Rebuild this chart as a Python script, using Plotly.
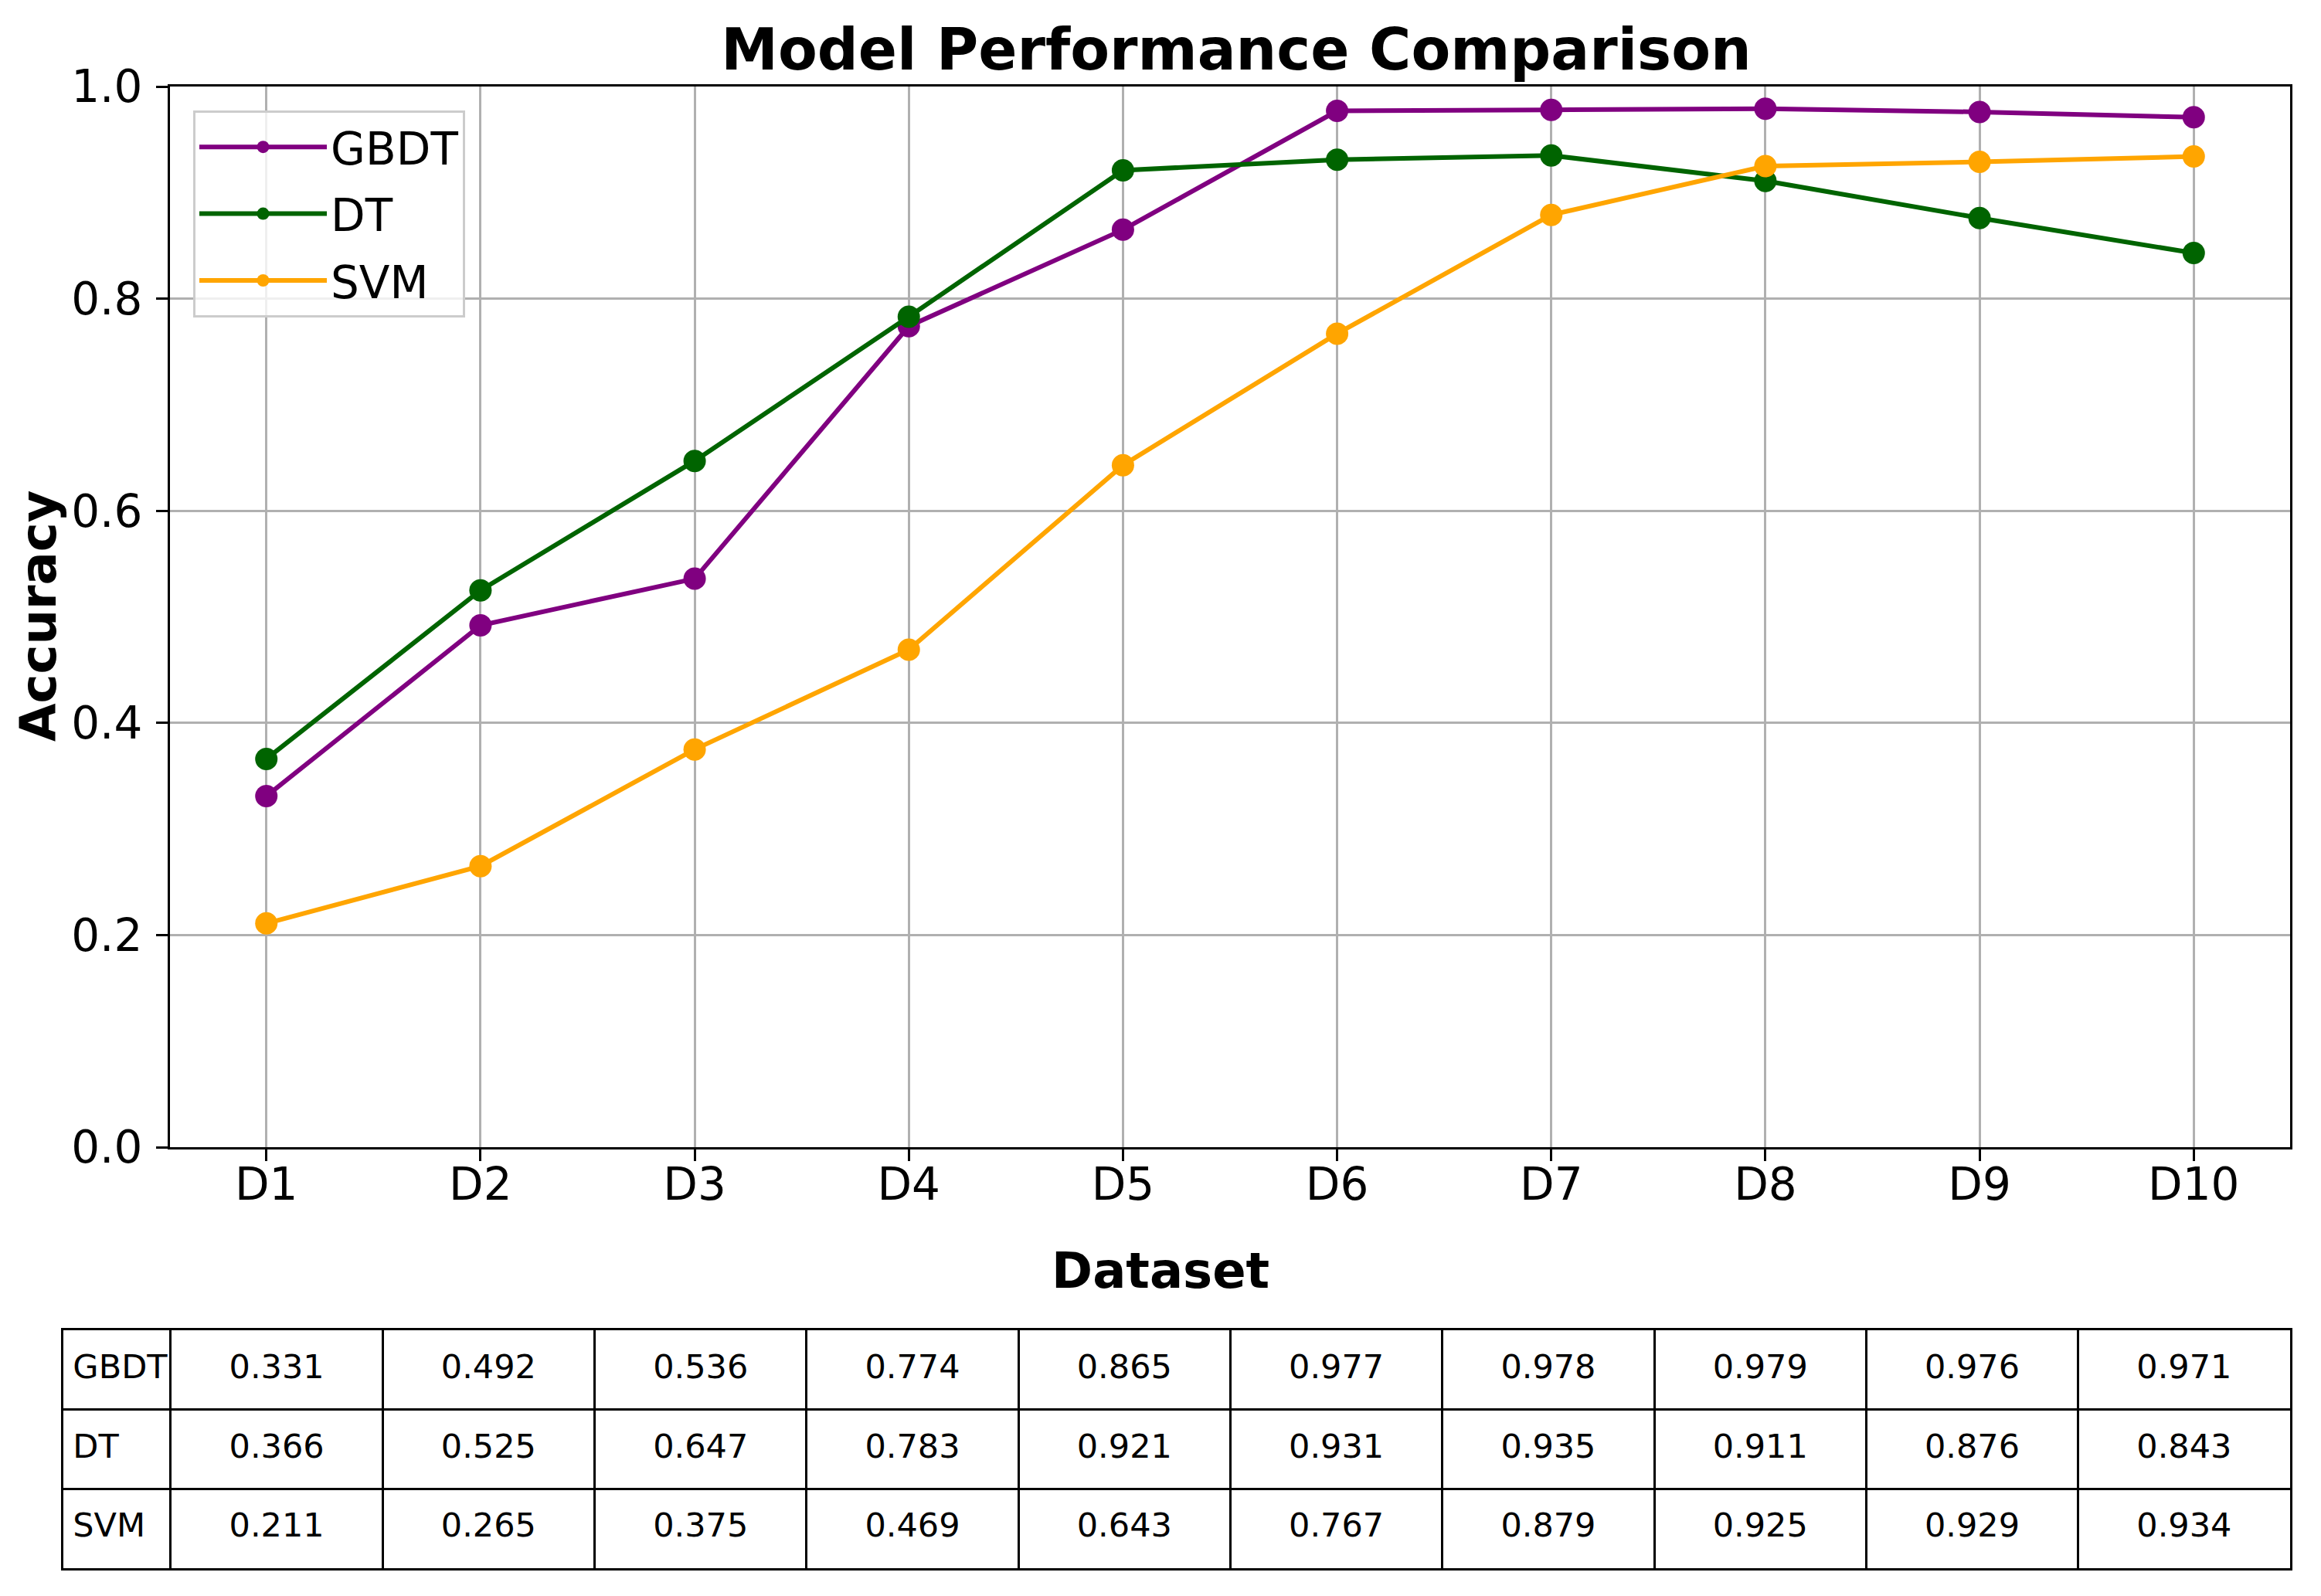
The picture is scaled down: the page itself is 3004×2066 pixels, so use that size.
import plotly.graph_objects as go

datasets = ["D1", "D2", "D3", "D4", "D5", "D6", "D7", "D8", "D9", "D10"]
models = ["GBDT", "DT", "SVM"]
gbdt = [0.331, 0.492, 0.536, 0.774, 0.865, 0.977, 0.978, 0.979, 0.976, 0.971]
dt = [0.366, 0.525, 0.647, 0.783, 0.921, 0.931, 0.935, 0.911, 0.876, 0.843]
svm = [0.211, 0.265, 0.375, 0.469, 0.643, 0.767, 0.879, 0.925, 0.929, 0.934]
colors = ["purple", "darkgreen", "orange"]
y_ticks = [0.0, 0.2, 0.4, 0.6, 0.8, 1.0]

W, H = 3004, 2066
FONT = "DejaVu Sans"

fig = go.Figure()
for name, vals, col in zip(models, [gbdt, dt, svm], colors):
    fig.add_trace(go.Scatter(
        x=list(range(len(datasets))), y=vals, name=name, mode="lines+markers",
        legendgroup=name,
        line=dict(color=col, width=6),
        marker=dict(color=col, size=29, line=dict(width=0)),
        xaxis="x", yaxis="y",
    ))

# ---- table drawn on its own axes: columns = label column + one per dataset ----
rows = [gbdt, dt, svm]
label_w = 139 / 274.4           # label column width relative to a value column
n = len(datasets)
tx, ty, tt = [], [], []
for r, vals in enumerate(rows):
    for i, v in enumerate(vals):
        tx.append(i + 0.5)
        ty.append(r + 0.5)
        tt.append(f"{v:.3f}")
fig.add_trace(go.Scatter(
    x=tx, y=ty, text=tt, mode="text", textposition="middle center",
    textfont=dict(family=FONT, size=43, color="black"),
    showlegend=False, hoverinfo="skip", xaxis="x2", yaxis="y2",
))
fig.add_trace(go.Scatter(
    x=[-label_w + 0.045] * len(models), y=[r + 0.5 for r in range(len(models))],
    text=models, mode="text", textposition="middle right",
    textfont=dict(family=FONT, size=43, color="black"),
    showlegend=False, hoverinfo="skip", xaxis="x2", yaxis="y2",
))

axis_common = dict(
    showline=True, mirror=True, linecolor="black", linewidth=3,
    showgrid=True, gridcolor="#b0b0b0", gridwidth=3,
    ticks="outside", ticklen=15, tickwidth=3, tickcolor="black",
    tickfont=dict(family=FONT, size=58, color="black"),
    zeroline=False, automargin=False,
)

table_axis = dict(
    showline=True, mirror=True, linecolor="black", linewidth=3,
    showgrid=True, gridcolor="black", gridwidth=3,
    ticks="", showticklabels=False, zeroline=False, automargin=False,
    fixedrange=True,
)

fig.update_layout(
    width=W, height=H,
    margin=dict(l=0, r=0, t=0, b=0),
    paper_bgcolor="white", plot_bgcolor="white",
    font=dict(family=FONT, color="black"),
    title=dict(text="Model Performance Comparison", x=1600 / W, xanchor="center",
               y=1 - 64 / H, yanchor="middle",
               font=dict(family=FONT, size=74, color="black", weight="bold")),
    xaxis=dict(domain=[220 / W, 2964 / W], range=[-0.45, 9.45],
               tickmode="array", tickvals=list(range(n)), ticktext=datasets,
               ticklabelstandoff=-20, **axis_common),
    yaxis=dict(domain=[1 - 1485 / H, 1 - 112 / H], range=[0, 1],
               tickmode="array", tickvals=y_ticks, ticktext=[f"{v:.1f}" for v in y_ticks],
               ticklabelstandoff=6, **axis_common),
    xaxis2=dict(domain=[82 / W, 2964 / W], range=[-label_w, n], anchor="y2",
                tickmode="array", tickvals=list(range(n)), **table_axis),
    yaxis2=dict(domain=[1 - 2030 / H, 1 - 1722 / H], range=[len(models), 0], anchor="x2",
                tickmode="array", tickvals=list(range(1, len(models))), **table_axis),
    legend=dict(x=250 / W, y=1 - 143 / H, xanchor="left", yanchor="top",
                bgcolor="rgba(255,255,255,0.8)", bordercolor="#cccccc", borderwidth=3,
                font=dict(family=FONT, size=58, color="black"),
                itemwidth=165, traceorder="grouped", tracegroupgap=8),
    annotations=[
        dict(text="Dataset", xref="paper", yref="paper", x=1502 / W, y=1 - 1645 / H,
             xanchor="center", yanchor="middle", showarrow=False,
             font=dict(family=FONT, size=64, color="black", weight="bold")),
        dict(text="Accuracy", xref="paper", yref="paper", x=50 / W, y=1 - 798 / H,
             xanchor="center", yanchor="middle", showarrow=False, textangle=-90,
             font=dict(family=FONT, size=64, color="black", weight="bold")),
    ],
)

fig.write_html("out.html", config={"displayModeBar": False},
               post_script="document.body.style.margin='0';")
